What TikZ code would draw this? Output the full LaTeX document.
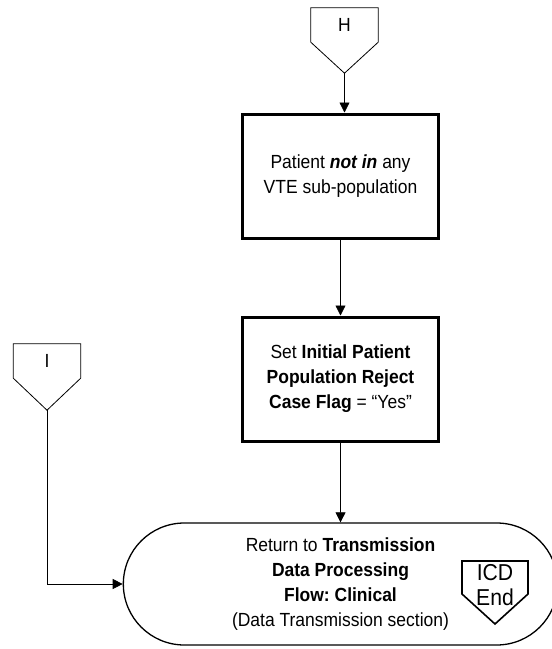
\documentclass[tikz,border=0pt]{standalone}
\usepackage{fontspec}
\setmainfont[FakeStretch=0.92]{Liberation Sans}
\frenchspacing
\usetikzlibrary{positioning,shapes.misc,arrows.meta,calc}

\begin{document}
\begin{tikzpicture}[x=1pt,y=-1pt]
  \newcommand{\boxfont}[0]{\fontsize{19}{25}\selectfont}
  \newcommand{\icdfont}[0]{\fontsize{23}{25}\selectfont}
  \tikzstyle{block}     = [rectangle, draw, line width=3pt, minimum width=196pt, minimum height=124pt, align=center, font=\boxfont]
  \tikzstyle{offpage}   = [rectangle, minimum width=67pt, minimum height=34pt, inner sep=0pt, font=\boxfont]
  \tikzstyle{terminal}  = [rounded rectangle, draw, line width=1.3pt, minimum width=441pt, minimum height=122pt, align=center, font=\boxfont]
  \tikzstyle{pentagon}  = [line width=0.8pt, line join=miter]
  \tikzstyle{connector} = [line width=0.8pt, -{Triangle[width=10pt,length=10pt]}]
  \useasboundingbox (0,0) rectangle (552,649);
  % off-page connectors
  \node [offpage] (H) at (344.5,25) {H};
  \coordinate (Htip) at ($(H.south)+(0,31)$);
  \draw [pentagon] (H.north west) -- (H.north east) -- (H.south east) -- (Htip) -- (H.south west) -- cycle;
  \node [offpage] (I) at (47,361) {I};
  \coordinate (Itip) at ($(I.south)+(0,32)$);
  \draw [pentagon] (I.north west) -- (I.north east) -- (I.south east) -- (Itip) -- (I.south west) -- cycle;
  % process boxes
  \node [block] (notin)  at (340.5,176) {Patient \textbf{\textit{not in}} any\\VTE sub-population};
  \node [block] (reject) at (340.5,379) {Set \textbf{Initial Patient}\\\textbf{Population Reject}\\\textbf{Case Flag} = “Yes”};
  % terminal
  \node [terminal] (return) at (340.5,584) {Return to \textbf{Transmission}\\\textbf{Data Processing}\\\textbf{Flow: Clinical}\\(Data Transmission section)};
  \node [font=\icdfont, align=center, inner sep=0pt] (icdend) at (495,585) {ICD\\End};
  \draw [pentagon, line width=1.6pt] ($(icdend)+(-33,-24)$) -- ($(icdend)+(33,-24)$) -- ($(icdend)+(33,9)$) -- ($(icdend)+(0,39)$) -- ($(icdend)+(-33,9)$) -- cycle;
  % connectors
  \draw [connector] (Htip)   -- (Htip |- notin.north);
  \draw [connector] (notin)  -- (reject);
  \draw [connector] (reject) -- (return);
  \draw [connector] (Itip)   |- (return.west);
\end{tikzpicture}
\end{document}
